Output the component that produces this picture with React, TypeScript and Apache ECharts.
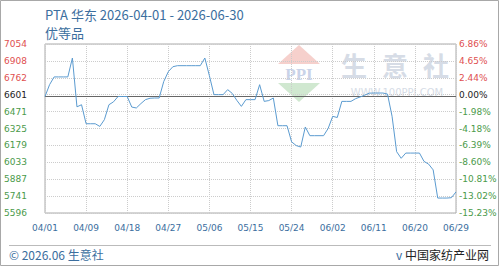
import React, { useEffect, useRef } from "react";
import * as echarts from "echarts";

// ---- data ----
const monthDays: [string, number][] = [["04", 30], ["05", 31], ["06", 30]];
const dates: string[] = [];
monthDays.forEach(([m, n]) => {
  for (let d = 1; d <= n; d++) dates.push(m + "/" + (d < 10 ? "0" + d : String(d)));
});

const priceValues = [
  6601, 6703, 6770, 6770, 6770, 6770, 6933, 6512, 6530, 6366,
  6366, 6366, 6343, 6401, 6530, 6555, 6601, 6601, 6601, 6510,
  6502, 6540, 6574, 6586, 6588, 6588, 6730, 6815, 6858, 6867,
  6867, 6867, 6867, 6867, 6867, 6933, 6780, 6617, 6617, 6617,
  6660, 6628, 6568, 6516, 6574, 6574, 6574, 6703, 6559, 6566,
  6588, 6349, 6349, 6349, 6210, 6178, 6165, 6338, 6263, 6263,
  6263, 6263, 6325, 6430, 6420, 6559, 6559, 6559, 6582, 6597,
  6612, 6630, 6631, 6631, 6631, 6622, 6430, 6125, 6068, 6113,
  6113, 6113, 6113, 6041, 6018, 5968, 5725, 5725, 5725, 5728,
  5778,
];

const baseValue = 6601;
const xTickLabels = ["04/01", "04/09", "04/18", "04/27", "05/06", "05/15", "05/24", "06/02", "06/11", "06/20", "06/29"];
const leftTickLabels = ["5596", "5741", "5887", "6033", "6179", "6325", "6471", "6601", "6762", "6908", "7054"];
const rightTickLabels = ["-15.23%", "-13.02%", "-10.81%", "-8.60%", "-6.39%", "-4.18%", "-1.98%", "0.00%", "2.44%", "4.65%", "6.86%"];

const Y_MIN = 5596;
const Y_MAX = 7054;
const Y_INT = 145.8;
const X_STEP = 9;

const tickIndex = (v: any) => Math.round((Number(v) - Y_MIN) / Y_INT);
const tickColor = (v: any) => {
  const i = tickIndex(v);
  if (i < 7) return "#4a9a4a";
  if (i === 7) return "#222222";
  return "#e05050";
};

const CJK = "'Noto Sans CJK SC', 'Noto Sans', sans-serif";
const LAB = "'DejaVu Sans', Verdana, sans-serif";

export default function App() {
  const ref = useRef<HTMLDivElement>(null);
  useEffect(() => {
    document.body.style.margin = "0";
    if (!ref.current) return;
    const chart = echarts.init(ref.current, null, { renderer: "svg" });
    const wm = "#d6dce6";
    chart.setOption({
      animation: false,
      backgroundColor: "#ffffff",
      grid: {
        left: 45, top: 44, width: 411, height: 169,
        show: true, borderColor: "#aaaaaa", borderWidth: 1, backgroundColor: "transparent",
      },
      xAxis: {
        type: "category",
        data: dates,
        boundaryGap: false,
        axisLine: { show: false },
        axisTick: { show: false },
        axisLabel: {
          interval: X_STEP - 1,
          margin: 10,
          color: "#3b6e9e",
          fontSize: 9,
          fontFamily: LAB,
          formatter: (_v: string, idx: number) => xTickLabels[Math.round(idx / X_STEP)] ?? "",
        },
        splitLine: { show: true, interval: X_STEP - 1, lineStyle: { color: "#cccccc", type: "dotted", width: 1 } },
      },
      yAxis: [
        {
          type: "value",
          min: Y_MIN, max: Y_MAX, interval: Y_INT,
          axisLine: { show: false },
          axisTick: { show: false },
          splitLine: { show: true, lineStyle: { color: "#cccccc", type: "dotted", width: 1 } },
          axisLabel: {
            align: "left",
            margin: 41,
            fontSize: 9,
            fontFamily: LAB,
            color: tickColor,
            formatter: (v: number) => leftTickLabels[tickIndex(v)] ?? "",
          },
        },
        {
          type: "value",
          position: "right",
          min: Y_MIN, max: Y_MAX, interval: Y_INT,
          axisLine: { show: false },
          axisTick: { show: false },
          splitLine: { show: false },
          axisLabel: {
            align: "left",
            margin: 3,
            fontSize: 9,
            fontFamily: LAB,
            color: tickColor,
            formatter: (v: number) => rightTickLabels[tickIndex(v)] ?? "",
          },
        },
      ],
      series: [
        {
          type: "line",
          data: priceValues,
          yAxisIndex: 0,
          symbol: "none",
          smooth: false,
          z: 5,
          lineStyle: { color: "#5b9bd0", width: 1 },
          emphasis: { disabled: true },
          markLine: {
            silent: true,
            symbol: ["none", "none"],
            label: { show: false },
            lineStyle: { color: "#666666", type: "solid", width: 1 },
            data: [{ yAxis: baseValue }],
          },
        },
      ],
      graphic: [
        { type: "rect", shape: { x: 0.5, y: 0.5, width: 498, height: 265 }, style: { fill: "none", stroke: "#a8a8a8", lineWidth: 1 }, z: 0 },
        { type: "text", x: 45, y: 14, style: { text: "PTA 华东 2026-04-01 - 2026-06-30", fill: "#3b6e9e", font: "13px " + CJK, textVerticalAlign: "middle" } },
        { type: "text", x: 45, y: 32, style: { text: "优等品", fill: "#3b6e9e", font: "13px " + CJK, textVerticalAlign: "middle" } },
        // watermark
        { type: "polygon", shape: { points: [[278, 64], [299, 45], [320, 64]] }, style: { fill: "#f6d0cc" }, z: 0 },
        { type: "text", x: 299, y: 74, style: { text: "PPI", fill: "#c9d3e8", font: "bold 17px 'Liberation Serif', serif", textAlign: "center", textVerticalAlign: "middle" }, z: 0 },
        { type: "polygon", shape: { points: [[278, 83], [320, 83], [299, 102]] }, style: { fill: "#d0e8d0" }, z: 0 },
        { type: "text", x: 354, y: 64, style: { text: "生", fill: wm, font: "bold 26px " + CJK, textAlign: "center", textVerticalAlign: "middle" }, z: 0 },
        { type: "text", x: 395, y: 64, style: { text: "意", fill: wm, font: "bold 26px " + CJK, textAlign: "center", textVerticalAlign: "middle" }, z: 0 },
        { type: "text", x: 436, y: 64, style: { text: "社", fill: wm, font: "bold 26px " + CJK, textAlign: "center", textVerticalAlign: "middle" }, z: 0 },
        { type: "text", x: 397, y: 92, style: { text: "WWW.100PPI.COM", fill: wm, font: "10px " + LAB, textAlign: "center", textVerticalAlign: "middle" }, z: 0 },
        // footer
        { type: "line", shape: { x1: 9, y1: 245.5, x2: 491, y2: 245.5 }, style: { stroke: "#bbbbbb", lineWidth: 1 } },
        { type: "text", x: 9, y: 254, style: { text: "© 2026.06 生意社", fill: "#3b6e9e", font: "12px " + CJK, textVerticalAlign: "middle" } },
        { type: "text", x: 396, y: 254, style: { text: "v", fill: "#3b6e9e", font: "12px " + CJK, textVerticalAlign: "middle" } },
        { type: "text", x: 489, y: 254, style: { text: "中国家纺产业网", fill: "#222222", font: "12px " + CJK, textAlign: "right", textVerticalAlign: "middle" } },
      ],
    });
    return () => chart.dispose();
  }, []);
  return <div ref={ref} style={{ width: 500, height: 267 }} />;
}
